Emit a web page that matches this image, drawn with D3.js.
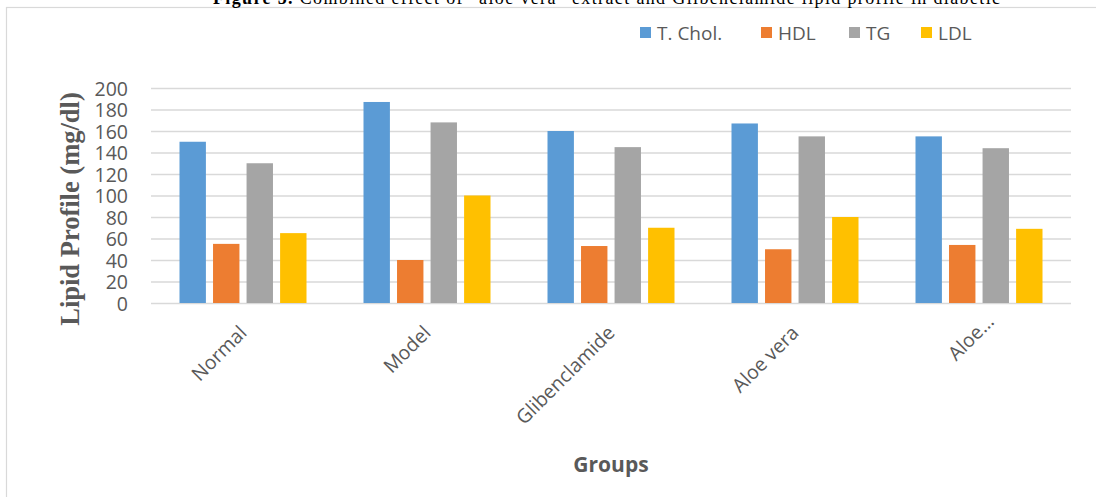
<!DOCTYPE html>
<html>
<head>
<meta charset="utf-8">
<script src="https://cdn.jsdelivr.net/npm/d3@7"></script>
<style>
html,body{margin:0;padding:0;background:#fff;}
svg{display:block;}
</style>
</head>
<body>
<svg id="chart" width="1096" height="497"></svg>
<script>
// ---- data ----
const groups = ["Normal", "Model", "Glibenclamide", "Aloe vera", "Aloe…"];
const seriesNames = ["T. Chol.", "HDL", "TG", "LDL"];
const tChol = [150, 187, 160, 167, 155];
const hdl   = [55, 40, 53, 50, 54];
const tg    = [130, 168, 145, 155, 144];
const ldl   = [65, 100, 70, 80, 69];
const yTicks = [0, 20, 40, 60, 80, 100, 120, 140, 160, 180, 200];
const colors = ["#5B9BD5", "#ED7D31", "#A5A5A5", "#FFC000"];

const seriesValues = [tChol, hdl, tg, ldl];

const svg = d3.select("#chart");
const grey = "#595959";

// frame
svg.append("rect").attr("x", 6.5).attr("y", 7.5).attr("width", 1200).attr("height", 600)
  .attr("fill", "#fff").attr("stroke", "#d9d9d9").attr("stroke-width", 1.2);

// title (clipped at top)
const title = svg.append("text").attr("x", 213).attr("y", 4)
  .attr("font-family", "Liberation Serif, Times New Roman, serif").attr("font-size", 18)
  .attr("fill", "#000").attr("textLength", 787).attr("lengthAdjust", "spacing");
title.append("tspan").attr("font-weight", "bold").text("Figure 5. ");
title.append("tspan").text("Combined effect of \u201Caloe vera\u201D extract and Glibenclamide lipid profile in diabetic");

const plot = {left: 151, right: 1071, top: 88, bottom: 303};

const x0 = d3.scaleBand().domain(groups).range([plot.left, plot.right]).paddingInner(0).paddingOuter(0);
const x1 = d3.scaleBand().domain(seriesNames).range([0, x0.bandwidth()])
  .paddingInner(0.27 / 1.27).paddingOuter(0.85);
const y = d3.scaleLinear().domain([0, 200]).range([plot.bottom, plot.top]);

// gridlines
const yAxis = d3.axisLeft(y).tickValues(yTicks).tickSize(-(plot.right - plot.left)).tickPadding(23);
const gy = svg.append("g").attr("transform", `translate(${plot.left},0)`).call(yAxis);
gy.select(".domain").remove();
gy.selectAll(".tick line").attr("stroke", "#d9d9d9").attr("stroke-width", 1.5);
gy.selectAll(".tick text").attr("fill", grey)
  .attr("font-family", "Open Sans, Liberation Sans, sans-serif").attr("font-size", 19.5)
  .attr("dy", "0.36em");

// bars
const gBars = svg.append("g");
groups.forEach((g, gi) => {
  seriesNames.forEach((s, si) => {
    const v = seriesValues[si][gi];
    gBars.append("rect")
      .attr("x", x0(g) + x1(s))
      .attr("y", y(v))
      .attr("width", x1.bandwidth())
      .attr("height", y(0) - y(v))
      .attr("fill", colors[si]);
  });
});

// x axis labels
const gx = svg.append("g");
groups.forEach(g => {
  const cx = x0(g) + x0.bandwidth() / 2;
  const shift = g.endsWith("…") ? 16 : 0;
  gx.append("text")
    .attr("transform", `translate(${cx + 5},334) rotate(-45)`)
    .attr("x", shift)
    .attr("text-anchor", "end")
    .attr("font-family", "Open Sans, Liberation Sans, sans-serif")
    .attr("font-size", 19.5)
    .attr("fill", grey)
    .text(g);
});

// axis titles
svg.append("text").attr("transform", "translate(79,209) rotate(-90)")
  .attr("text-anchor", "middle")
  .attr("font-family", "Liberation Serif, Times New Roman, serif")
  .attr("font-weight", "bold").attr("font-size", 26.5).attr("fill", grey)
  .text("Lipid Profile (mg/dl)");

svg.append("text").attr("x", 611).attr("y", 472)
  .attr("text-anchor", "middle")
  .attr("font-family", "Open Sans, Liberation Sans, sans-serif")
  .attr("font-weight", "bold").attr("font-size", 21).attr("fill", grey)
  .text("Groups");

// legend
const legendX = [640, 761, 849, 921];
const lg = svg.append("g");
seriesNames.forEach((s, i) => {
  lg.append("rect").attr("x", legendX[i]).attr("y", 27).attr("width", 11).attr("height", 11).attr("fill", colors[i]);
  lg.append("text").attr("x", legendX[i] + 17).attr("y", 39.5)
    .attr("font-family", "Open Sans, Liberation Sans, sans-serif").attr("font-size", 19)
    .attr("fill", grey).text(s);
});
</script>
</body>
</html>
